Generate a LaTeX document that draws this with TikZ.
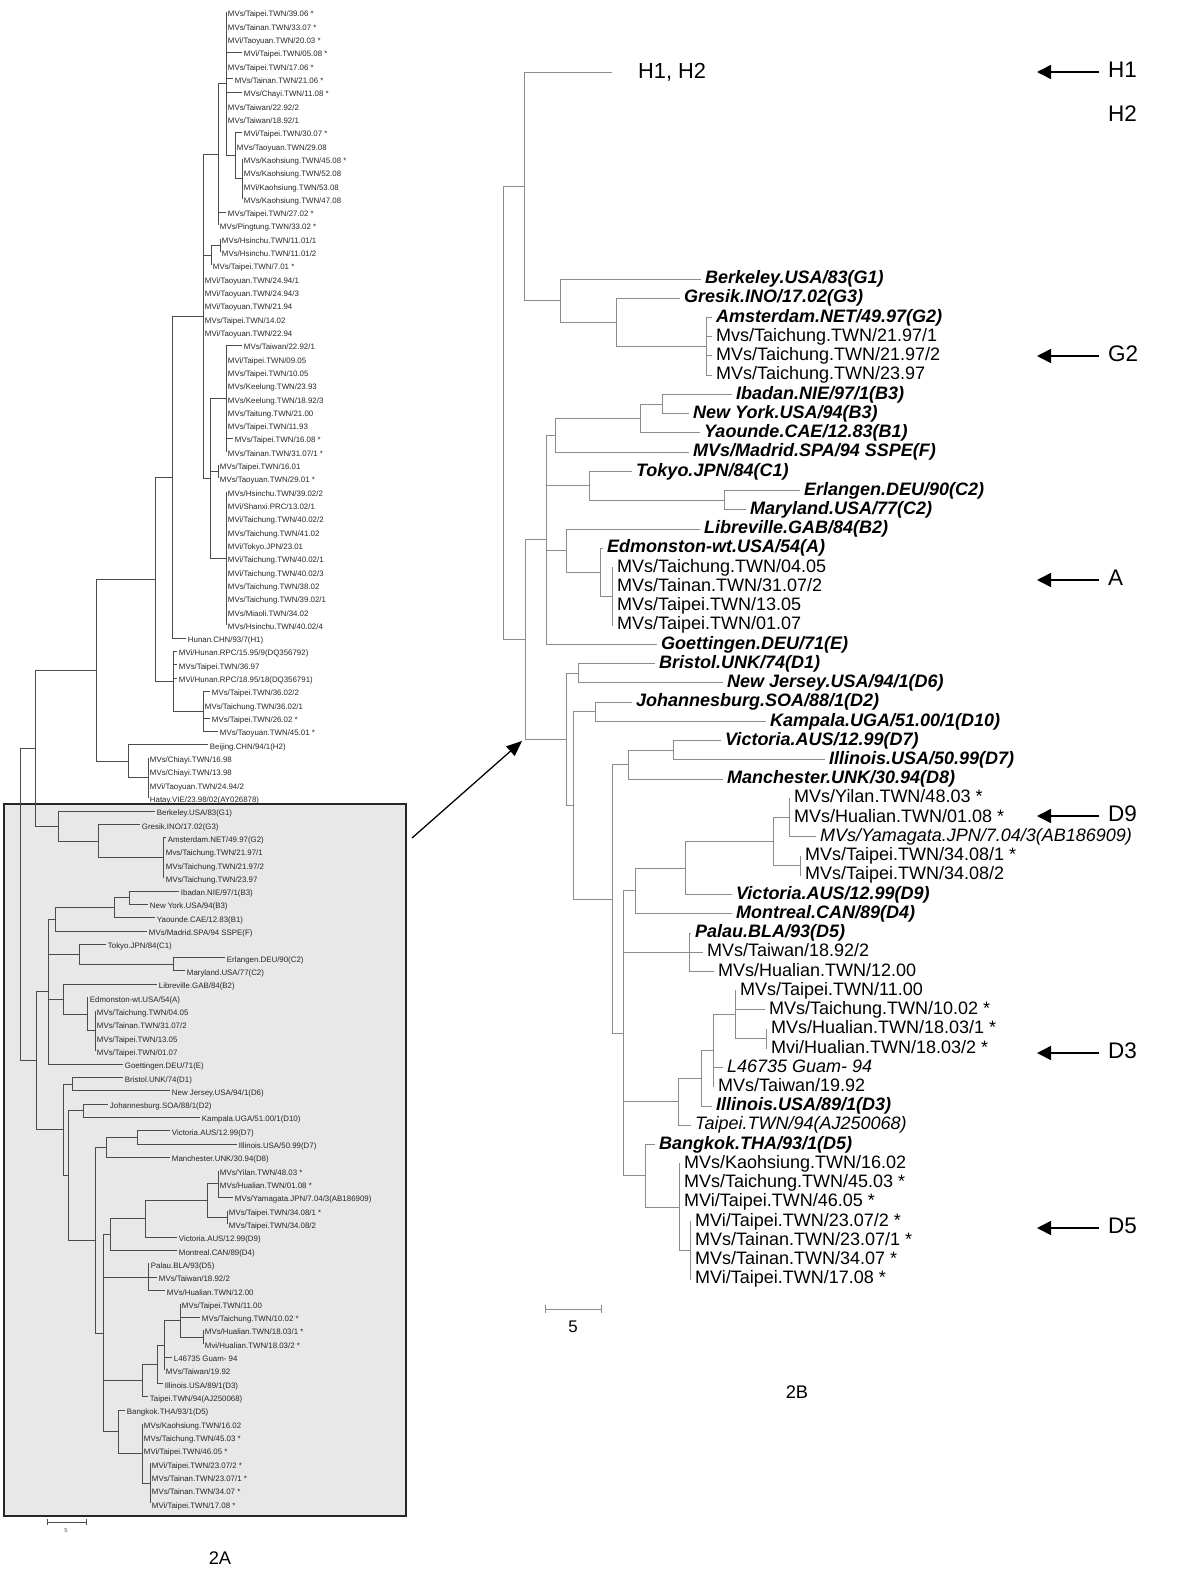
\documentclass[tikz,border=0pt]{standalone}
\usepackage{fontspec}
\setmainfont{Liberation Sans}
\usetikzlibrary{arrows.meta}
% node x, connection at the middle of the vertical span
\newcommand{\nd}[4]{\draw (#1,{(#3+#4)/2}) -- (#2,{(#3+#4)/2}) (#2,#3) -- (#2,#4);}
\newcommand{\lfA}[4]{\draw (#1,#3) -- (#2,#3) node[leafA] (a#3) {#4};}
\newcommand{\lfB}[5][]{\draw (#2,#4) -- (#3,#4) node[leafB,#1] (b#4) {#5};}
\tikzset{
  leafA/.style={anchor=west, inner xsep=1.1pt, inner ysep=0pt, text height=1.5ex, text depth=.25ex,
    font=\fontsize{5.6}{6.5}\selectfont, text=black!85},
  leafB/.style={anchor=west, inner xsep=2.6pt, inner ysep=0pt, text height=1.5ex, text depth=.25ex,
    font=\fontsize{12.8}{14}\selectfont, text=black},
  refstrain/.style={font=\fontsize{12.8}{14}\selectfont\bfseries\itshape},
  italstrain/.style={font=\fontsize{12.8}{14}\selectfont\itshape},
  tag/.style={anchor=west, inner xsep=2pt, inner ysep=0pt, text height=1.5ex, text depth=0pt,
    font=\fontsize{16}{18}\selectfont},
  ptr/.style={line width=1.1pt, shorten <=4pt, -{Triangle[length=10pt,width=10pt]}},
  bigptr/.style={line width=0.9pt, -{Triangle[length=11pt,width=9pt]}}
}
\begin{document}
\begin{tikzpicture}[x=0.025cm, y=-0.025cm]
		\useasboundingbox (0,0) rectangle (1200,1579);
		%%%%% BOX %%%%%
		\filldraw[fill=black!9, draw=black!85, line width=1.4pt] (4,804) rectangle (406,1516);
		
		%%%%% TREE 2A %%%%%
		\begin{scope}[shift={(0,-1.01)}, y=-0.33275cm, black!70, line width=0.6pt]
		\draw (20,56.27) -- (20,79.75);
		\nd{20}{35}{50.42}{62.125}
		\nd{35}{96}{43.59}{57.25}
		\nd{96}{155}{35.92}{51.25}
		\nd{155}{172}{23.84}{48}
		\nd{172}{203}{11.6875}{36}
		\nd{203}{218}{6.375}{17}
		\nd{218}{226}{1}{11.75}
		\nd{226}{235}{10}{13.5}
		\nd{235}{242}{12}{15}
		\nd{203}{211}{18.5}{20}
		\nd{211}{220}{18}{19}
		\nd{203}{210}{30}{42}
		\nd{210}{226}{26}{34}
		\nd{210}{218}{35}{36}
		\nd{210}{226}{37}{47}
		\nd{155}{173}{49}{53.5}
		\nd{173}{203}{52}{55}
		\nd{96}{128}{56}{58.5}
		\nd{128}{148}{57}{60}
		
		\lfA{226}{226}{1}{MVs/Taipei.TWN/39.06 *}
		\lfA{226}{226}{2}{MVs/Tainan.TWN/33.07 *}
		\lfA{226}{226}{3}{MVi/Taoyuan.TWN/20.03 *}
		\lfA{226}{242}{4}{MVi/Taipei.TWN/05.08 *}
		\lfA{226}{226}{5}{MVs/Taipei.TWN/17.06 *}
		\lfA{226}{233}{6}{MVs/Tainan.TWN/21.06 *}
		\lfA{226}{242}{7}{MVs/Chayi.TWN/11.08 *}
		\lfA{226}{226}{8}{MVs/Taiwan/22.92/2}
		\lfA{226}{226}{9}{MVs/Taiwan/18.92/1}
		\lfA{235}{242}{10}{MVi/Taipei.TWN/30.07 *}
		\lfA{235}{235}{11}{MVs/Taoyuan.TWN/29.08}
		\lfA{242}{242}{12}{MVs/Kaohsiung.TWN/45.08 *}
		\lfA{242}{242}{13}{MVs/Kaohsiung.TWN/52.08}
		\lfA{242}{242}{14}{MVi/Kaohsiung.TWN/53.08}
		\lfA{242}{242}{15}{MVs/Kaohsiung.TWN/47.08}
		\lfA{218}{226}{16}{MVs/Taipei.TWN/27.02 *}
		\lfA{218}{218}{17}{MVs/Pingtung.TWN/33.02 *}
		\lfA{220}{220}{18}{MVs/Hsinchu.TWN/11.01/1}
		\lfA{220}{220}{19}{MVs/Hsinchu.TWN/11.01/2}
		\lfA{211}{211}{20}{MVs/Taipei.TWN/7.01 *}
		\lfA{203}{203}{21}{MVi/Taoyuan.TWN/24.94/1}
		\lfA{203}{203}{22}{MVi/Taoyuan.TWN/24.94/3}
		\lfA{203}{203}{23}{MVi/Taoyuan.TWN/21.94}
		\lfA{203}{203}{24}{MVs/Taipei.TWN/14.02}
		\lfA{203}{203}{25}{MVi/Taoyuan.TWN/22.94}
		\lfA{226}{242}{26}{MVs/Taiwan/22.92/1}
		\lfA{226}{226}{27}{MVi/Taipei.TWN/09.05}
		\lfA{226}{226}{28}{MVs/Taipei.TWN/10.05}
		\lfA{226}{226}{29}{MVs/Keelung.TWN/23.93}
		\lfA{226}{226}{30}{MVs/Keelung.TWN/18.92/3}
		\lfA{226}{226}{31}{MVs/Taitung.TWN/21.00}
		\lfA{226}{226}{32}{MVs/Taipei.TWN/11.93}
		\lfA{226}{233}{33}{MVs/Taipei.TWN/16.08 *}
		\lfA{226}{226}{34}{MVs/Tainan.TWN/31.07/1 *}
		\lfA{218}{218}{35}{MVs/Taipei.TWN/16.01}
		\lfA{218}{218}{36}{MVs/Taoyuan.TWN/29.01 *}
		\lfA{226}{226}{37}{MVs/Hsinchu.TWN/39.02/2}
		\lfA{226}{226}{38}{MVi/Shanxi.PRC/13.02/1}
		\lfA{226}{226}{39}{MVi/Taichung.TWN/40.02/2}
		\lfA{226}{226}{40}{MVs/Taichung.TWN/41.02}
		\lfA{226}{226}{41}{MVi/Tokyo.JPN/23.01}
		\lfA{226}{226}{42}{MVi/Taichung.TWN/40.02/1}
		\lfA{226}{226}{43}{MVi/Taichung.TWN/40.02/3}
		\lfA{226}{226}{44}{MVs/Taichung.TWN/38.02}
		\lfA{226}{226}{45}{MVs/Taichung.TWN/39.02/1}
		\lfA{226}{226}{46}{MVs/Miaoli.TWN/34.02}
		\lfA{226}{226}{47}{MVs/Hsinchu.TWN/40.02/4}
		\lfA{172}{186}{48}{Hunan.CHN/93/7(H1)}
		\lfA{173}{177}{49}{MVi/Hunan.RPC/15.95/9(DQ356792)}
		\lfA{173}{177}{50}{MVs/Taipei.TWN/36.97}
		\lfA{173}{177}{51}{MVi/Hunan.RPC/18.95/18(DQ356791)}
		\lfA{203}{210}{52}{MVs/Taipei.TWN/36.02/2}
		\lfA{203}{203}{53}{MVs/Taichung.TWN/36.02/1}
		\lfA{203}{210}{54}{MVs/Taipei.TWN/26.02 *}
		\lfA{203}{218}{55}{MVs/Taoyuan.TWN/45.01 *}
		\lfA{128}{208}{56}{Beijing.CHN/94/1(H2)}
		\lfA{148}{148}{57}{MVs/Chiayi.TWN/16.98}
		\lfA{148}{148}{58}{MVs/Chiayi.TWN/13.98}
		\lfA{148}{148}{59}{MVi/Taoyuan.TWN/24.94/2}
		\lfA{148}{148}{60}{Hatay.VIE/23.98/02(AY026878)}
		
		% boxed part
		\nd{35}{58}{61}{63.25}
		\nd{58}{98}{62}{64.5}
		\nd{98}{163}{63}{66}
		\nd{20}{36}{74.5625}{84.93}
		\nd{36}{48}{69.125}{80}
		\nd{48}{55}{68.25}{70}
		\nd{55}{114}{67.5}{69}
		\nd{114}{129}{67}{68}
		\nd{48}{79}{71}{72.5}
		\nd{79}{173}{72}{73}
		\nd{48}{63}{74}{76.25}
		\nd{63}{87}{75}{77.5}
		\nd{87}{95}{76}{79}
		\nd{36}{63}{81.5}{88.37}
		\nd{63}{72}{81}{82}
		\nd{63}{68}{83.5}{93.23}
		\nd{68}{83}{83}{84}
		\nd{68}{95}{86.25}{100.22}
		\nd{95}{106}{85.5}{87}
		\nd{106}{137}{85}{86}
		\nd{95}{103}{92.8125}{107.625}
		\nd{103}{110}{91.625}{94}
		\nd{110}{145}{90.25}{93}
		\nd{145}{207}{89}{91.5}
		\nd{207}{218}{88}{90}
		\nd{207}{227}{91}{92}
		\nd{103}{148}{95}{97}
		\nd{103}{142}{102.5625}{105}
		\nd{142}{157}{101.125}{104}
		\nd{157}{164}{99.25}{103}
		\nd{164}{180}{98}{100.5}
		\nd{180}{203}{100}{101}
		\nd{103}{118}{106}{109.25}
		\nd{118}{142}{107}{111.5}
		\nd{142}{150}{110}{113}
		
		\lfA{58}{155}{61}{Berkeley.USA/83(G1)}
		\lfA{98}{140}{62}{Gresik.INO/17.02(G3)}
		\lfA{163}{166}{63}{Amsterdam.NET/49.97(G2)}
		\lfA{163}{164}{64}{Mvs/Taichung.TWN/21.97/1}
		\lfA{163}{164}{65}{MVs/Taichung.TWN/21.97/2}
		\lfA{163}{164}{66}{MVs/Taichung.TWN/23.97}
		\lfA{129}{179}{67}{Ibadan.NIE/97/1(B3)}
		\lfA{129}{148}{68}{New York.USA/94(B3)}
		\lfA{114}{155}{69}{Yaounde.CAE/12.83(B1)}
		\lfA{55}{147}{70}{MVs/Madrid.SPA/94 SSPE(F)}
		\lfA{79}{106}{71}{Tokyo.JPN/84(C1)}
		\lfA{173}{225}{72}{Erlangen.DEU/90(C2)}
		\lfA{173}{185}{73}{Maryland.USA/77(C2)}
		\lfA{63}{157}{74}{Libreville.GAB/84(B2)}
		\lfA{87}{88}{75}{Edmonston-wt.USA/54(A)}
		\lfA{95}{95}{76}{MVs/Taichung.TWN/04.05}
		\lfA{95}{95}{77}{MVs/Tainan.TWN/31.07/2}
		\lfA{95}{95}{78}{MVs/Taipei.TWN/13.05}
		\lfA{95}{95}{79}{MVs/Taipei.TWN/01.07}
		\lfA{48}{123}{80}{Goettingen.DEU/71(E)}
		\lfA{72}{123}{81}{Bristol.UNK/74(D1)}
		\lfA{72}{170}{82}{New Jersey.USA/94/1(D6)}
		\lfA{83}{108}{83}{Johannesburg.SOA/88/1(D2)}
		\lfA{83}{200}{84}{Kampala.UGA/51.00/1(D10)}
		\lfA{137}{170}{85}{Victoria.AUS/12.99(D7)}
		\lfA{137}{237}{86}{Illinois.USA/50.99(D7)}
		\lfA{106}{170}{87}{Manchester.UNK/30.94(D8)}
		\lfA{218}{218}{88}{MVs/Yilan.TWN/48.03 *}
		\lfA{218}{218}{89}{MVs/Hualian.TWN/01.08 *}
		\lfA{218}{233}{90}{MVs/Yamagata.JPN/7.04/3(AB186909)}
		\lfA{227}{227}{91}{MVs/Taipei.TWN/34.08/1 *}
		\lfA{227}{227}{92}{MVs/Taipei.TWN/34.08/2}
		\lfA{145}{177}{93}{Victoria.AUS/12.99(D9)}
		\lfA{110}{177}{94}{Montreal.CAN/89(D4)}
		\lfA{148}{149}{95}{Palau.BLA/93(D5)}
		\lfA{148}{157}{96}{MVs/Taiwan/18.92/2}
		\lfA{148}{165}{97}{MVs/Hualian.TWN/12.00}
		\lfA{180}{180}{98}{MVs/Taipei.TWN/11.00}
		\lfA{180}{200}{99}{MVs/Taichung.TWN/10.02 *}
		\lfA{203}{203}{100}{MVs/Hualian.TWN/18.03/1 *}
		\lfA{203}{203}{101}{Mvi/Hualian.TWN/18.03/2 *}
		\lfA{164}{172}{102}{L46735 Guam- 94}
		\lfA{164}{164}{103}{MVs/Taiwan/19.92}
		\lfA{157}{163}{104}{Illinois.USA/89/1(D3)}
		\lfA{142}{148}{105}{Taipei.TWN/94(AJ250068)}
		\lfA{118}{125}{106}{Bangkok.THA/93/1(D5)}
		\lfA{142}{142}{107}{MVs/Kaohsiung.TWN/16.02}
		\lfA{142}{142}{108}{MVs/Taichung.TWN/45.03 *}
		\lfA{142}{142}{109}{MVi/Taipei.TWN/46.05 *}
		\lfA{150}{150}{110}{MVi/Taipei.TWN/23.07/2 *}
		\lfA{150}{150}{111}{MVs/Tainan.TWN/23.07/1 *}
		\lfA{150}{150}{112}{MVs/Tainan.TWN/34.07 *}
		\lfA{150}{150}{113}{MVi/Taipei.TWN/17.08 *}
		\end{scope}
		
		% scale 2A
		\draw[black!70, line width=0.6pt] (47,1519) -- (47,1525) (47,1522) -- (86,1522) (86,1519) -- (86,1525);
		\node[font=\fontsize{4}{5}\selectfont, text=black!70] (scaleA) at (66,1531) {5};
		\node[font=\fontsize{13}{15}\selectfont] (capA) at (220,1558) {2A};
		
		%%%%% TREE 2B %%%%%
		\begin{scope}[shift={(0,259.77)}, y=-0.48075cm, black!45, line width=0.7pt]
		\draw (503,-3.82) -- (503,19.75);
		\nd{503}{524}{-9.76}{2.125}
		\draw (524,-9.76) -- (612,-9.76);
		\node[anchor=west, text=black, font=\fontsize{15.5}{18}\selectfont] (hh) at (633,-9.76) {H1, H2};
		\nd{524}{560}{1}{3.25}
		\lfB[refstrain]{560}{701}{1}{Berkeley.USA/83(G1)}
		\nd{560}{616}{2}{4.5}
		\lfB[refstrain]{616}{680}{2}{Gresik.INO/17.02(G3)}
		\nd{616}{706}{3}{6}
		\lfB[refstrain]{706}{712}{3}{Amsterdam.NET/49.97(G2)}
		\lfB{706}{712}{4}{Mvs/Taichung.TWN/21.97/1}
		\lfB{706}{712}{5}{MVs/Taichung.TWN/21.97/2}
		\lfB{706}{712}{6}{MVs/Taichung.TWN/23.97}
		
		\nd{503}{525}{14.5625}{24.93}
		\nd{525}{546}{9.125}{20}
		\nd{546}{555}{8.25}{10}
		\nd{555}{640}{7.5}{9}
		\nd{640}{662}{7}{8}
		\lfB[refstrain]{662}{732}{7}{Ibadan.NIE/97/1(B3)}
		\lfB[refstrain]{662}{689}{8}{New York.USA/94(B3)}
		\lfB[refstrain]{640}{700}{9}{Yaounde.CAE/12.83(B1)}
		\lfB[refstrain]{555}{689}{10}{MVs/Madrid.SPA/94 SSPE(F)}
		\nd{546}{589}{11}{12.5}
		\lfB[refstrain]{589}{632}{11}{Tokyo.JPN/84(C1)}
		\nd{589}{724}{12}{13}
		\lfB[refstrain]{724}{800}{12}{Erlangen.DEU/90(C2)}
		\lfB[refstrain]{724}{746}{13}{Maryland.USA/77(C2)}
		\nd{546}{566}{14}{16.25}
		\lfB[refstrain]{566}{700}{14}{Libreville.GAB/84(B2)}
		\nd{566}{600}{15}{17.5}
		\lfB[refstrain]{600}{603}{15}{Edmonston-wt.USA/54(A)}
		\nd{600}{612}{16}{19}
		\lfB{612}{613}{16}{MVs/Taichung.TWN/04.05}
		\lfB{612}{613}{17}{MVs/Tainan.TWN/31.07/2}
		\lfB{612}{613}{18}{MVs/Taipei.TWN/13.05}
		\lfB{612}{613}{19}{MVs/Taipei.TWN/01.07}
		\lfB[refstrain]{546}{657}{20}{Goettingen.DEU/71(E)}
		
		\nd{525}{566}{21.5}{28.37}
		\nd{566}{578}{21}{22}
		\lfB[refstrain]{578}{655}{21}{Bristol.UNK/74(D1)}
		\lfB[refstrain]{578}{723}{22}{New Jersey.USA/94/1(D6)}
		\nd{566}{573}{23.5}{33.23}
		\nd{573}{595}{23}{24}
		\lfB[refstrain]{595}{632}{23}{Johannesburg.SOA/88/1(D2)}
		\lfB[refstrain]{595}{766}{24}{Kampala.UGA/51.00/1(D10)}
		\nd{573}{612}{26.25}{40.22}
		\nd{612}{628}{25.5}{27}
		\nd{628}{673}{25}{26}
		\lfB[refstrain]{673}{721}{25}{Victoria.AUS/12.99(D7)}
		\lfB[refstrain]{673}{825}{26}{Illinois.USA/50.99(D7)}
		\lfB[refstrain]{628}{723}{27}{Manchester.UNK/30.94(D8)}
		\nd{612}{623}{32.8125}{47.625}
		\nd{623}{635}{31.625}{34}
		\nd{635}{685}{30.25}{33}
		\nd{685}{773}{29}{31.5}
		\nd{773}{789}{28}{30}
		\lfB{789}{790}{28}{MVs/Yilan.TWN/48.03 *}
		\lfB{789}{790}{29}{MVs/Hualian.TWN/01.08 *}
		\lfB[italstrain]{789}{816}{30}{MVs/Yamagata.JPN/7.04/3(AB186909)}
		\nd{773}{800}{31}{32}
		\lfB{800}{801}{31}{MVs/Taipei.TWN/34.08/1 *}
		\lfB{800}{801}{32}{MVs/Taipei.TWN/34.08/2}
		\lfB[refstrain]{685}{732}{33}{Victoria.AUS/12.99(D9)}
		\lfB[refstrain]{635}{732}{34}{Montreal.CAN/89(D4)}
		\nd{623}{689}{35}{37}
		\lfB[refstrain]{689}{691}{35}{Palau.BLA/93(D5)}
		\lfB{689}{703}{36}{MVs/Taiwan/18.92/2}
		\lfB{689}{714}{37}{MVs/Hualian.TWN/12.00}
		\nd{623}{678}{42.5625}{45}
		\nd{678}{701}{41.125}{44}
		\nd{701}{713}{39.25}{43}
		\nd{713}{735}{38}{40.5}
		\lfB{735}{736}{38}{MVs/Taipei.TWN/11.00}
		\lfB{735}{765}{39}{MVs/Taichung.TWN/10.02 *}
		\nd{735}{766}{40}{41}
		\lfB{766}{767}{40}{MVs/Hualian.TWN/18.03/1 *}
		\lfB{766}{767}{41}{Mvi/Hualian.TWN/18.03/2 *}
		\lfB[italstrain]{713}{723}{42}{L46735 Guam- 94}
		\lfB{713}{714}{43}{MVs/Taiwan/19.92}
		\lfB[refstrain]{701}{712}{44}{Illinois.USA/89/1(D3)}
		\lfB[italstrain]{678}{691}{45}{Taipei.TWN/94(AJ250068)}
		\nd{623}{645}{46}{49.25}
		\lfB[refstrain]{645}{655}{46}{Bangkok.THA/93/1(D5)}
		\nd{645}{679}{47}{51.5}
		\lfB{679}{680}{47}{MVs/Kaohsiung.TWN/16.02}
		\lfB{679}{680}{48}{MVs/Taichung.TWN/45.03 *}
		\lfB{679}{680}{49}{MVi/Taipei.TWN/46.05 *}
		\nd{679}{690}{50}{53}
		\lfB{690}{691}{50}{MVi/Taipei.TWN/23.07/2 *}
		\lfB{690}{691}{51}{MVs/Tainan.TWN/23.07/1 *}
		\lfB{690}{691}{52}{MVs/Tainan.TWN/34.07 *}
		\lfB{690}{691}{53}{MVi/Taipei.TWN/17.08 *}
		\end{scope}
		
		% scale 2B
		\draw[black!45, line width=0.7pt] (545,1305) -- (545,1313) (545,1309) -- (601,1309) (601,1305) -- (601,1313);
		\node[font=\fontsize{12}{14}\selectfont] (scaleB) at (573,1327) {5};
		\node[font=\fontsize{13}{15}\selectfont] (capB) at (797,1392) {2B};
		
		% genotype pointers
		\node[tag] (tH1) at (1105,72) {H1};
		\node[tag] (tH2) at (1105,116) {H2};
		\node[tag] (tG2) at (1105,356) {G2};
		\node[tag] (tA) at (1105,580) {A};
		\node[tag] (tD9) at (1105,816) {D9};
		\node[tag] (tD3) at (1105,1053) {D3};
		\node[tag] (tD5) at (1105,1228) {D5};
		\coordinate (pH1) at (1037,72);
		\coordinate (pG2) at (1037,356);
		\coordinate (pA) at (1037,580);
		\coordinate (pD9) at (1037,816);
		\coordinate (pD3) at (1037,1053);
		\coordinate (pD5) at (1037,1228);
		\draw[ptr] (tH1.west) -- (pH1);
		\draw[ptr] (tG2.west) -- (pG2);
		\draw[ptr] (tA.west) -- (pA);
		\draw[ptr] (tD9.west) -- (pD9);
		\draw[ptr] (tD3.west) -- (pD3);
		\draw[ptr] (tD5.west) -- (pD5);
		
		% box to enlargement
		\coordinate (zoomFrom) at (412,838);
		\coordinate (zoomTo) at (522,741);
		\draw[bigptr] (zoomFrom) -- (zoomTo);
\end{tikzpicture}
\end{document}
